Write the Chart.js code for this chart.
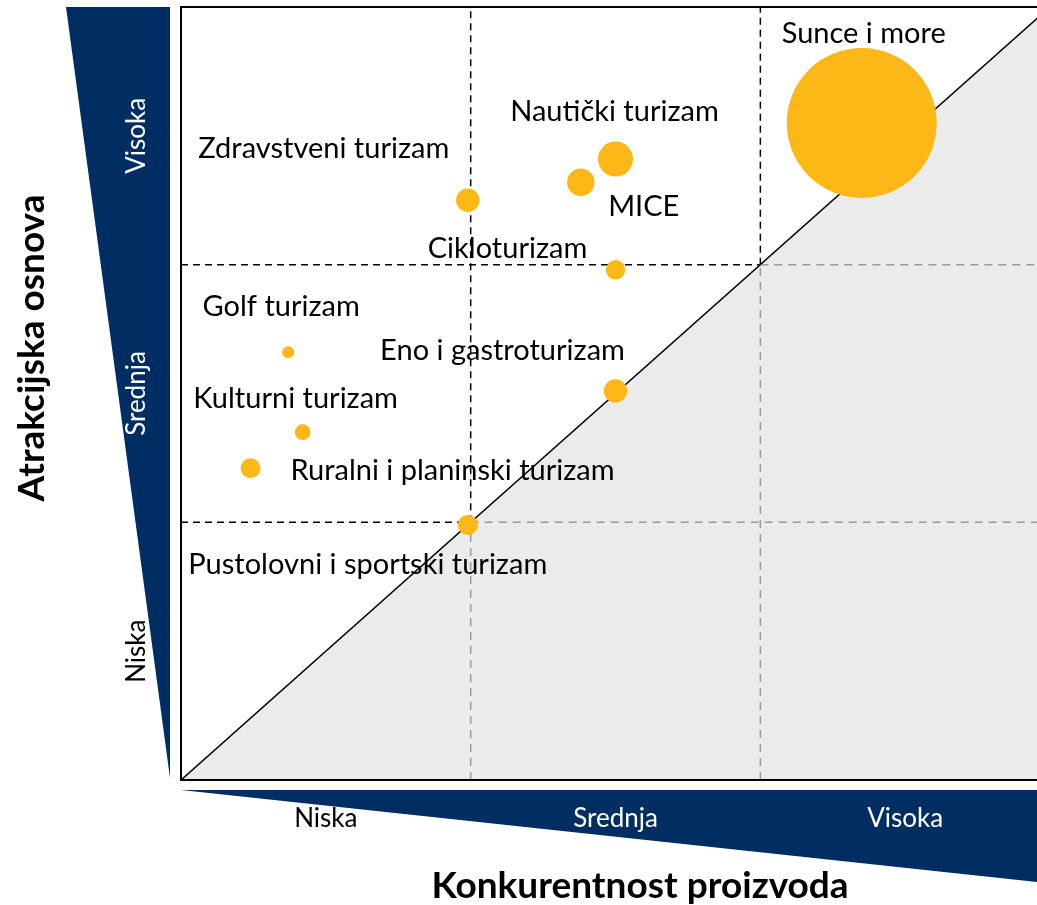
<!DOCTYPE html>
<html>
<head>
<meta charset="utf-8">
<script src="https://cdn.jsdelivr.net/npm/chart.js@4.4.0/dist/chart.umd.min.js"></script>
<style>
  body { margin: 0; background: #fff; }
  canvas { display: block; }
</style>
</head>
<body>
<canvas id="matrixChart" width="1037" height="905"></canvas>
<script>
// tourism products
var products = [
  "Sunce i more", "Nautički turizam", "MICE", "Zdravstveni turizam", "Cikloturizam",
  "Golf turizam", "Eno i gastroturizam", "Kulturni turizam",
  "Ruralni i planinski turizam", "Pustolovni i sportski turizam"
];
// x = konkurentnost proizvoda, y = atrakcijska osnova (0-3, one unit per level)
var competitiveness = [2.35, 1.50, 1.38, 0.99, 1.50, 0.37, 1.50, 0.42, 0.24, 0.99];
var attraction = [2.55, 2.41, 2.32, 2.25, 1.98, 1.66, 1.51, 1.35, 1.21, 0.99];
var bubbleSize = [75, 17.5, 13.7, 11.7, 9.7, 6, 11.7, 7.8, 10, 10];

var levelLabels = ["Niska", "Srednja", "Visoka"];

// label placement relative to each bubble (px)
var labelOffsets = [
  [2, -80], [-1, -38], [63, 34], [-144, -42], [-108, -12],
  [-7, -36], [-113, -31], [-7, -24], [202, 12], [-100, 49]
];

var navy = "#002E62";
var gold = "#FBB817";
var fontName = "Lato, 'Open Sans', sans-serif";

var bubbleData = products.map(function(p, i) {
  return { x: competitiveness[i], y: attraction[i], r: bubbleSize[i] };
});

function seg(x1, y1, x2, y2, color, dash) {
  return {
    type: "scatter",
    data: [{ x: x1, y: y1 }, { x: x2, y: y2 }],
    showLine: true,
    borderColor: color,
    borderWidth: 1.5,
    borderDash: dash,
    pointRadius: 0,
    order: 1
  };
}

var black = "#000";
var grey = "#9A9A9A";

var decorPlugin = {
  id: "decor",
  beforeDraw: function(chart) {
    var ctx = chart.ctx;
    ctx.save();
    ctx.fillStyle = "#fff";
    ctx.fillRect(0, 0, chart.width, chart.height);
    var a = chart.chartArea;
    ctx.fillStyle = navy;
    // left wedge
    ctx.beginPath();
    ctx.moveTo(66, a.top);
    ctx.lineTo(170, a.top);
    ctx.lineTo(170, a.bottom - 2);
    ctx.closePath();
    ctx.fill();
    // bottom wedge
    ctx.beginPath();
    ctx.moveTo(a.left, a.bottom + 10);
    ctx.lineTo(chart.width, a.bottom + 10);
    ctx.lineTo(chart.width, a.bottom + 102);
    ctx.closePath();
    ctx.fill();
    ctx.restore();
  },
  afterDraw: function(chart) {
    var ctx = chart.ctx;
    var a = chart.chartArea;
    var yScale = chart.scales.y;
    ctx.save();
    // frame
    ctx.strokeStyle = "#000";
    ctx.lineWidth = 2;
    ctx.beginPath();
    ctx.moveTo(chart.width, a.top);
    ctx.lineTo(a.left, a.top);
    ctx.lineTo(a.left, a.bottom);
    ctx.lineTo(chart.width, a.bottom);
    ctx.stroke();

    // bubble labels
    var meta = chart.getDatasetMeta(0);
    ctx.fillStyle = "#000";
    ctx.font = "29px " + fontName;
    ctx.textAlign = "center";
    ctx.textBaseline = "alphabetic";
    meta.data.forEach(function(el, i) {
      var off = labelOffsets[i];
      ctx.fillText(products[i], el.x + off[0], el.y + off[1]);
    });

    // y level labels (rotated)
    ctx.font = "26px " + fontName;
    ctx.textBaseline = "middle";
    levelLabels.forEach(function(t, i) {
      var py = yScale.getPixelForValue(i + 0.5);
      ctx.save();
      ctx.translate(137, py);
      ctx.rotate(-Math.PI / 2);
      ctx.fillStyle = i === 0 ? "#000" : "#fff";
      ctx.fillText(t, 0, 0);
      ctx.restore();
    });

    // axis titles
    ctx.fillStyle = "#000";
    ctx.font = "bold 37px " + fontName;
    ctx.fillText("Konkurentnost proizvoda", 640, 886);
    ctx.save();
    ctx.translate(32, 348);
    ctx.rotate(-Math.PI / 2);
    ctx.fillText("Atrakcijska osnova", 0, 0);
    ctx.restore();
    ctx.restore();
  }
};

var ctx = document.getElementById("matrixChart").getContext("2d");
var chart = new Chart(ctx, {
  type: "bubble",
  data: {
    datasets: [
      {
        label: "Proizvodi",
        data: bubbleData,
        backgroundColor: gold,
        borderWidth: 0,
        order: 0
      },
      // black dashed parts in the white zone
      seg(0, 1, 1, 1, black, [7, 5]),
      seg(1, 1, 1, 3, black, [7, 5]),
      seg(0, 2, 2, 2, black, [7, 5]),
      seg(2, 2, 2, 3, black, [7, 5]),
      // grey dashed parts in the shaded zone
      seg(1, 1, 3, 1, grey, [8, 6]),
      seg(1, 0, 1, 1, grey, [8, 6]),
      seg(2, 2, 3, 2, grey, [8, 6]),
      seg(2, 0, 2, 2, grey, [8, 6]),
      {
        type: "line",
        data: [{ x: 0, y: 0 }, { x: 3, y: 3 }],
        borderColor: "#000",
        borderWidth: 1.5,
        pointRadius: 0,
        fill: "start",
        backgroundColor: "#EBEBEB",
        order: 2
      }
    ]
  },
  options: {
    responsive: false,
    animation: false,
    layout: { autoPadding: false, padding: { left: 181, top: 7, right: 0, bottom: 0 } },
    plugins: {
      legend: { display: false },
      tooltip: { enabled: false }
    },
    scales: {
      x: {
        type: "linear",
        min: 0,
        max: 2.955,
        grid: { display: false },
        border: { display: false },
        afterBuildTicks: function(scale) {
          scale.ticks = [{ value: 0.5 }, { value: 1.5 }, { value: 2.5 }];
        },
        afterFit: function(scale) {
          scale.height = 125;
        },
        ticks: {
          autoSkip: false,
          maxRotation: 0,
          padding: 15,
          font: { family: fontName, size: 26 },
          color: function(c) { return c.index === 0 ? "#000" : "#fff"; },
          callback: function(value) { return levelLabels[Math.floor(value)]; }
        }
      },
      y: {
        type: "linear",
        display: false,
        min: 0,
        max: 3
      }
    }
  },
  plugins: [decorPlugin]
});
</script>
</body>
</html>
